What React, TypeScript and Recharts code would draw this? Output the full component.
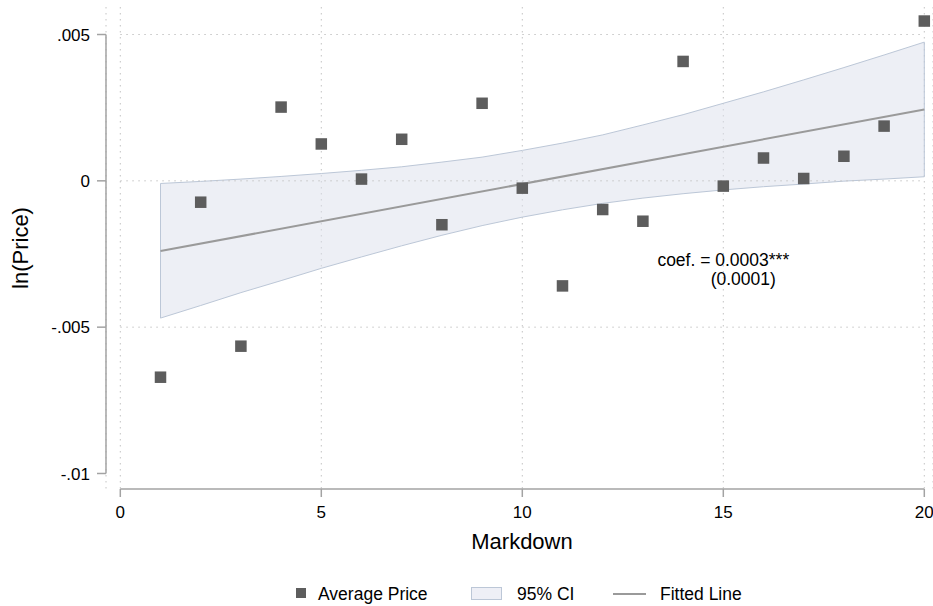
import React from 'react';
import {
  ComposedChart,
  XAxis,
  YAxis,
  Scatter,
  Area,
  Line,
  CartesianGrid,
  ReferenceLine,
  ReferenceDot,
  Legend,
} from 'recharts';

// ---- data ----
const MARKDOWN = [1, 2, 3, 4, 5, 6, 7, 8, 9, 10, 11, 12, 13, 14, 15, 16, 17, 18, 19, 20];
const AVG_PRICE = [
  -0.00671, -0.00073, -0.00565, 0.00252, 0.00126, 0.00006, 0.00142, -0.0015, 0.00265, -0.00025,
  -0.00359, -0.00098, -0.00138, 0.00408, -0.00018, 0.00078, 0.00008, 0.00084, 0.00187, 0.00546,
];
const CI_LOW = [
  -0.00469, -0.00426, -0.00382, -0.00341, -0.00299, -0.0026, -0.00222, -0.00186, -0.00153, -0.00124,
  -0.00099, -0.00077, -0.00059, -0.00044, -0.00031, -0.0002, -0.00011, -0.00001, 0.00006, 0.00014,
];
const CI_HIGH = [
  -0.00009, -0.00002, 0.00006, 0.00015, 0.00025, 0.00036, 0.00048, 0.00064, 0.00081, 0.00104,
  0.00129, 0.00157, 0.00191, 0.00226, 0.00265, 0.00304, 0.00345, 0.00387, 0.0043, 0.00474,
];
const FIT_X = [1, 20];
const FIT_Y = [-0.0024, 0.00244];

const X_TICKS = [0, 5, 10, 15, 20];
const Y_TICKS = [-0.01, -0.005, 0, 0.005];
const Y_TICK_LABELS = ['-.01', '-.005', '0', '.005'];
const Y_GRID = [0.005, 0, -0.005];

const COEF_TEXT = 'coef. = 0.0003***';
const SE_TEXT = '(0.0001)';
const COEF_POS = { x: 15, y: -0.003 };

// ---- styles / layout ----
const FONT = '"Liberation Sans", Arial, Helvetica, sans-serif';
const MARKER = '#5d5d5d';
const BAND_FILL = '#dcdfec';
const BAND_STROKE = '#bcc7d7';
const FIT_COLOR = '#9a9a9a';
const AXIS_COLOR = '#a3a3a3';
const GRID_COLOR = '#c4c4c4';
const Y_DOMAIN = [-0.01053, 0.00594]; // plot region extends past the labelled range (Stata style)
const Y_AXIS_X = -0.356; // y axis drawn offset left of x=0
const X_AXIS_Y = Y_DOMAIN[0]; // x axis drawn offset below y=-.01

const rows = MARKDOWN.map((x, i) => {
  const fi = FIT_X.indexOf(x);
  return {
    x,
    price: AVG_PRICE[i],
    ci: [CI_LOW[i], CI_HIGH[i]],
    fit: fi >= 0 ? FIT_Y[fi] : null,
  };
});

const SquareShape = (props: any) => {
  const { cx, cy } = props;
  if (cx == null || cy == null) return null;
  const s = 11.5;
  return <rect x={cx - s / 2} y={cy - s / 2} width={s} height={s} fill={MARKER} />;
};

const AnnotationShape = (props: any) => {
  const { cx, cy } = props;
  return (
    <g>
      <text x={cx} y={cy - 2.3} textAnchor="middle" fontFamily={FONT} fontSize={17.5} fill="#000">
        {COEF_TEXT}
      </text>
      <text x={cx - 12.6} y={cy + 16.4} textAnchor="start" fontFamily={FONT} fontSize={17.5} fill="#000">
        {SE_TEXT}
      </text>
    </g>
  );
};

const LegendContent = () => {
  const textStyle: React.CSSProperties = {
    fontFamily: FONT,
    fontSize: 17.5,
    color: '#000',
    whiteSpace: 'nowrap',
    lineHeight: '24px',
  };
  return (
    <div style={{ position: 'relative', width: 933, height: 24 }}>
      <div style={{ position: 'absolute', left: 295.5, top: 5.5, width: 10.5, height: 10.5, background: MARKER }} />
      <div style={{ ...textStyle, position: 'absolute', left: 318, top: 0 }}>Average Price</div>
      <div
        style={{
          position: 'absolute',
          left: 471,
          top: 5,
          width: 31,
          height: 12.5,
          background: '#eeeff6',
          border: `1px solid ${BAND_STROKE}`,
          boxSizing: 'border-box',
        }}
      />
      <div style={{ ...textStyle, position: 'absolute', left: 517, top: 0 }}>95% CI</div>
      <div style={{ position: 'absolute', left: 613, top: 10.5, width: 33, height: 2, background: FIT_COLOR }} />
      <div style={{ ...textStyle, position: 'absolute', left: 660, top: 0 }}>Fitted Line</div>
    </div>
  );
};

export default function App() {
  return (
    <div style={{ position: 'absolute', left: 0, top: 0, width: 933, height: 606, background: '#fff' }}>
      <ComposedChart
        width={933}
        height={606}
        data={rows}
        margin={{ top: 7, right: 0, left: 0, bottom: 0 }}
      >
        <CartesianGrid horizontal={false} vertical stroke={GRID_COLOR} strokeDasharray="1.5 4.5" />
        <XAxis
          type="number"
          dataKey="x"
          domain={[0, 20]}
          ticks={X_TICKS}
          padding={{ left: 14.3, right: 8.7 }}
          height={117}
          axisLine={false}
          tickLine={{ stroke: AXIS_COLOR, strokeWidth: 1.5 }}
          tickSize={8}
          tickMargin={9}
          tick={{ fill: '#000', fontSize: 17, fontFamily: FONT }}
          interval={0}
          label={{
            content: () => (
              <text x={522} y={549} textAnchor="middle" fontFamily={FONT} fontSize={22} fill="#000">
                Markdown
              </text>
            ),
          }}
        />
        <YAxis
          type="number"
          domain={Y_DOMAIN}
          ticks={Y_TICKS}
          width={106}
          axisLine={false}
          tickLine={{ stroke: AXIS_COLOR, strokeWidth: 1.5 }}
          tickSize={9}
          tickMargin={7}
          interval={0}
          tick={{ fill: '#000', fontSize: 17, fontFamily: FONT }}
          tickFormatter={(v: number) => {
            const i = Y_TICKS.findIndex((t) => Math.abs(t - v) < 1e-9);
            return i >= 0 ? Y_TICK_LABELS[i] : String(v);
          }}
          label={{
            content: () => (
              <text
                x={28}
                y={248}
                transform="rotate(-90, 28, 248)"
                textAnchor="middle"
                fontFamily={FONT}
                fontSize={22}
                fill="#000"
              >
                ln(Price)
              </text>
            ),
          }}
        />
        {Y_GRID.map((v) => (
          <ReferenceLine
            key={`g${v}`}
            segment={[
              { x: X_TICKS[0], y: v },
              { x: X_TICKS[X_TICKS.length - 1], y: v },
            ]}
            stroke={GRID_COLOR}
            strokeDasharray="1.5 4.5"
            ifOverflow="visible"
          />
        ))}
        <Area
          dataKey="ci"
          type="linear"
          fill={BAND_FILL}
          fillOpacity={0.5}
          stroke={BAND_STROKE}
          strokeWidth={1}
          isAnimationActive={false}
          activeDot={false}
          legendType="none"
        />
        <ReferenceLine
          segment={[
            { x: MARKDOWN[0], y: CI_LOW[0] },
            { x: MARKDOWN[0], y: CI_HIGH[0] },
          ]}
          stroke={BAND_STROKE}
          strokeWidth={1}
          ifOverflow="visible"
        />
        <ReferenceLine
          segment={[
            { x: MARKDOWN[MARKDOWN.length - 1], y: CI_LOW[CI_LOW.length - 1] },
            { x: MARKDOWN[MARKDOWN.length - 1], y: CI_HIGH[CI_HIGH.length - 1] },
          ]}
          stroke={BAND_STROKE}
          strokeWidth={1}
          ifOverflow="visible"
        />
        <Line
          dataKey="fit"
          type="linear"
          stroke={FIT_COLOR}
          strokeWidth={2}
          dot={false}
          activeDot={false}
          connectNulls
          isAnimationActive={false}
        />
        <Scatter dataKey="price" shape={SquareShape} isAnimationActive={false} />
        {/* offset axis lines */}
        <ReferenceLine
          segment={[
            { x: Y_AXIS_X, y: Y_TICKS[0] },
            { x: Y_AXIS_X, y: Y_TICKS[Y_TICKS.length - 1] },
          ]}
          stroke={AXIS_COLOR}
          strokeWidth={1.5}
          ifOverflow="visible"
        />
        <ReferenceLine
          segment={[
            { x: X_TICKS[0], y: X_AXIS_Y },
            { x: X_TICKS[X_TICKS.length - 1], y: X_AXIS_Y },
          ]}
          stroke={AXIS_COLOR}
          strokeWidth={1.5}
          ifOverflow="visible"
        />
        <ReferenceDot
          x={COEF_POS.x}
          y={COEF_POS.y}
          r={1}
          ifOverflow="visible"
          shape={AnnotationShape}
        />
        <Legend
          layout="horizontal"
          verticalAlign="middle"
          align="center"
          content={LegendContent}
          wrapperStyle={{ position: 'absolute', left: 0, top: 582, width: 933, height: 24 }}
        />
      </ComposedChart>
    </div>
  );
}
